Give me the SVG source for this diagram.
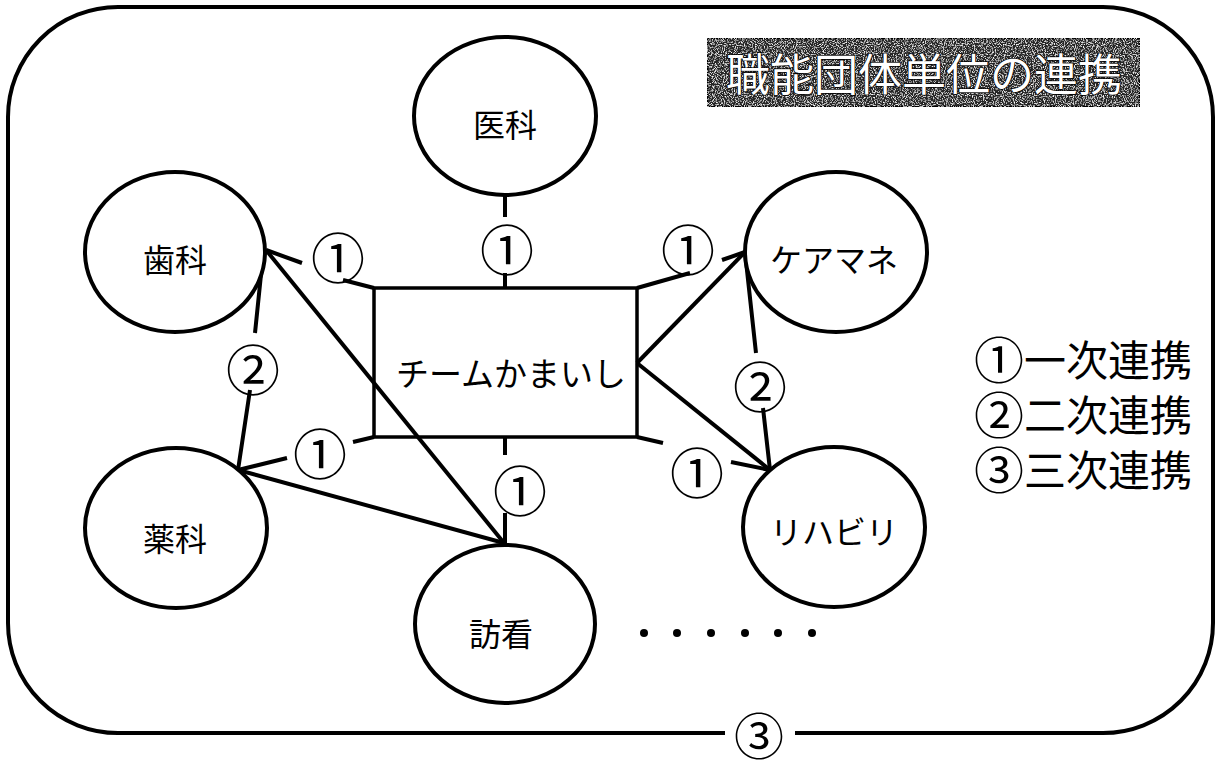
<svg xmlns="http://www.w3.org/2000/svg" width="1221" height="761" viewBox="0 0 1221 761">
<style>
.node ellipse{fill:#fff;stroke:#000;stroke-width:4}
.lbl{font-family:"Noto Sans CJK JP","Noto Sans CJK SC",sans-serif;font-size:32px;text-anchor:middle;dominant-baseline:central;fill:#000}
.num{font-family:"Noto Sans CJK JP","Noto Sans CJK SC",sans-serif;font-size:54px;text-anchor:middle;dominant-baseline:central;fill:#000}
.leg{font-family:"Noto Sans CJK JP","Noto Sans CJK SC",sans-serif;font-size:42px;dominant-baseline:central;fill:#000}
.big{font-size:50px}
.ln{fill:none;stroke:#000;stroke-width:4;stroke-linecap:butt;stroke-linejoin:miter}
</style>
<defs>
<filter id="noise" x="0" y="0" width="100%" height="100%">
<feTurbulence type="fractalNoise" baseFrequency="0.9" numOctaves="2" seed="3" result="t"/>
<feColorMatrix type="matrix" values="0 0 0 0 1  0 0 0 0 1  0 0 0 0 1  3 0 0 0 -1.45" in="t" result="w"/>
<feComposite in="w" in2="SourceGraphic" operator="atop"/>
</filter>
</defs>
<rect width="1221" height="761" fill="#fff"/>

<g id="frame">
<path class="ln" d="M725,733 H118 A110,110 0 0 1 8,623 V117 A110,110 0 0 1 118,7 H1103 A110,110 0 0 1 1213,117 V623 A110,110 0 0 1 1103,733 H795"/>
<text class="num" x="759" y="733" style="font-size:50px">③</text>
</g>

<g id="title">
<rect x="707" y="38" width="433" height="69" fill="#262626" stroke="#000" stroke-width="2" filter="url(#noise)"/>
<text x="924" y="72" font-family="'Noto Sans CJK JP','Noto Sans CJK SC',sans-serif" font-size="44" text-anchor="middle" dominant-baseline="central" fill="#fff" stroke="#000" stroke-width="1.5" paint-order="stroke">職能団体単位の連携</text>
</g>

<g id="center" class="node">
<rect x="374" y="288" width="263" height="149" fill="none" stroke="#000" stroke-width="3.5"/>
<text class="lbl" x="511" y="372" style="font-size:33px">チームかまいし</text>
</g>

<g id="connectors">
<path class="ln" d="M505,195 V217 M505,273 V288"/>
<path class="ln" d="M374,288 L343,280 M302,263 L266,250"/>
<path class="ln" d="M637,288 L690,273 M722,260 L745,252"/>
<path class="ln" d="M374,437 L353,442 M287,458 L238,470"/>
<path class="ln" d="M637,437 L663,443 M731,462 L770,470"/>
<path class="ln" d="M505,437 V455 M505,513 V543"/>
<path class="ln" d="M266,250 L504,543"/>
<path class="ln" d="M238,470 L504,543"/>
<path class="ln" d="M637,363 L745,252"/>
<path class="ln" d="M637,363 L770,470"/>
<path class="ln" d="M263,255 L255,333 M250,390 L238,470"/>
<path class="ln" d="M745,252 L756,353 M763,408 L770,470"/>
</g>

<g id="labels">
<text class="num" x="338" y="255">①</text>
<text class="num" x="507" y="247">①</text>
<text class="num" x="688" y="247">①</text>
<text class="num" x="320" y="451">①</text>
<text class="num" x="520" y="488">①</text>
<text class="num" x="697" y="470">①</text>
<text class="num" x="253" y="367">②</text>
<text class="num" x="760" y="384">②</text>
</g>

<g id="ika" class="node"><ellipse cx="505" cy="116" rx="91" ry="79"/><text class="lbl" x="505" y="123">医科</text></g>
<g id="shika" class="node"><ellipse cx="175" cy="252" rx="90" ry="80"/><text class="lbl" x="175" y="258">歯科</text></g>
<g id="caremane" class="node"><ellipse cx="836" cy="252" rx="91" ry="80"/><text class="lbl" x="834" y="258">ケアマネ</text></g>
<g id="yakka" class="node"><ellipse cx="176" cy="528" rx="91" ry="80"/><text class="lbl" x="175" y="537">薬科</text></g>
<g id="houkan" class="node"><ellipse cx="505" cy="624" rx="90" ry="79"/><text class="lbl" x="501" y="632">訪看</text></g>
<g id="rehab" class="node"><ellipse cx="834" cy="527" rx="91" ry="80"/><text class="lbl" x="834" y="530">リハビリ</text></g>

<g id="more">
<circle cx="644" cy="633" r="4"/><circle cx="677" cy="633" r="4"/><circle cx="711" cy="633" r="4"/><circle cx="745" cy="633" r="4"/><circle cx="778" cy="633" r="4"/><circle cx="812" cy="633" r="4"/>
</g>

<g id="legend">
<text class="leg"><tspan x="974" y="357" class="big">①</tspan><tspan>一次連携</tspan><tspan x="974" y="412" class="big">②</tspan><tspan>二次連携</tspan><tspan x="974" y="467" class="big">③</tspan><tspan>三次連携</tspan></text>
</g>
</svg>
